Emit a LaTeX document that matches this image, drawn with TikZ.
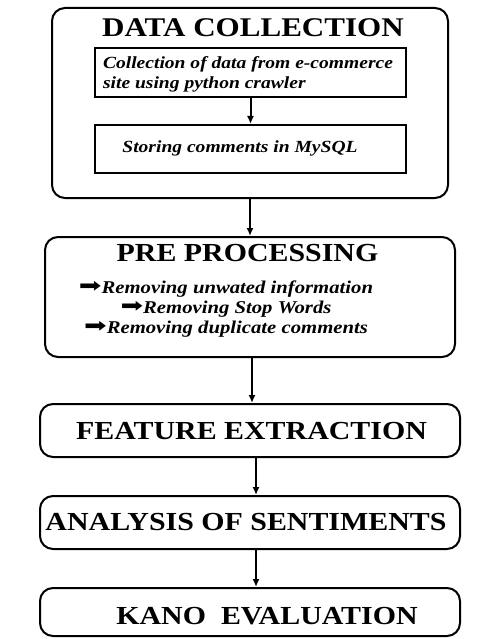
\documentclass[tikz,border=0pt]{standalone}
\usepackage{fontspec}
\setmainfont{Liberation Serif}[FakeStretch=1.15]
\newfontfamily\arrowfont{DejaVu Sans}
\usetikzlibrary{arrows.meta}

\tikzset{
	stage/.style={draw, line width=2pt, rounded corners=13pt, inner sep=0pt},
	inbox/.style={draw, line width=2pt, minimum width=311pt, minimum height=48pt, inner sep=0pt},
	heading/.style={font=\fontsize{26}{30}\selectfont\bfseries},
	note/.style={font=\fontsize{17}{20}\selectfont\bfseries\itshape},
	flow/.style={-{Latex[length=8pt,width=7pt]}, line width=2pt},
}
\newcommand{\blt}{\raisebox{0.5pt}{\scalebox{1.5}[1.1]{\arrowfont\upshape\mdseries ➡}}}

\begin{document}
\begin{tikzpicture}[x=10pt,y=-10pt]
	\useasboundingbox (0,0) rectangle (48.7,63.9);

	\node at (25,10.3) [stage, minimum width=396pt, minimum height=190pt] (collect) {};
	\node at (25.3,2.75) [heading, font=\fontsize{27}{30}\selectfont\bfseries] (collecttitle) {DATA COLLECTION};
	\node at (25.05,7.25) [inbox, minimum height=49pt] (crawl) {};
	\node at (24.8,7.45) [note, align=left] (crawltext) {Collection of data from e-commerce\\site using python crawler};
	\node at (25.05,14.9) [inbox] (store) {};
	\node at (24.0,14.85) [note] (storetext) {Storing comments in MySQL};

	\node at (25,29.7) [stage, minimum width=410pt, minimum height=120pt] (prep) {};
	\node at (24.75,25.35) [heading] (preptitle) {PRE PROCESSING};
	\node at (22.6,30.9) [note, font=\fontsize{18}{20}\selectfont\bfseries\itshape, align=center] (prepsteps)
	  {\blt Removing unwated information\\ \blt Removing Stop Words\\ \blt Removing duplicate comments};

	\node at (25,43.05) [stage, minimum width=420pt, minimum height=53pt] (feat) {};
	\node at (25.15,43.15) [heading] (feattext) {FEATURE EXTRACTION};

	\node at (25,52.25) [stage, minimum width=420pt, minimum height=53pt] (senti) {};
	\node at (24.6,52.2) [heading] (sentitext) {ANALYSIS OF SENTIMENTS};

	\node at (25,61.2) [stage, minimum width=420pt, minimum height=48pt] (kano) {};
	\node at (26.7,61.65) [heading] (kanotext) {KANO\ \ EVALUATION};

	\draw [flow] (crawl) -- (store);
	\draw [flow] (collect) -- (prep);
	\draw [flow] ([xshift=2pt]prep.south) -- ([xshift=2pt]feat.north);
	\draw [flow] ([xshift=6pt]feat.south) -- ([xshift=6pt]senti.north);
	\draw [flow] ([xshift=6pt]senti.south) -- ([xshift=6pt]kano.north);

\end{tikzpicture}
\end{document}
